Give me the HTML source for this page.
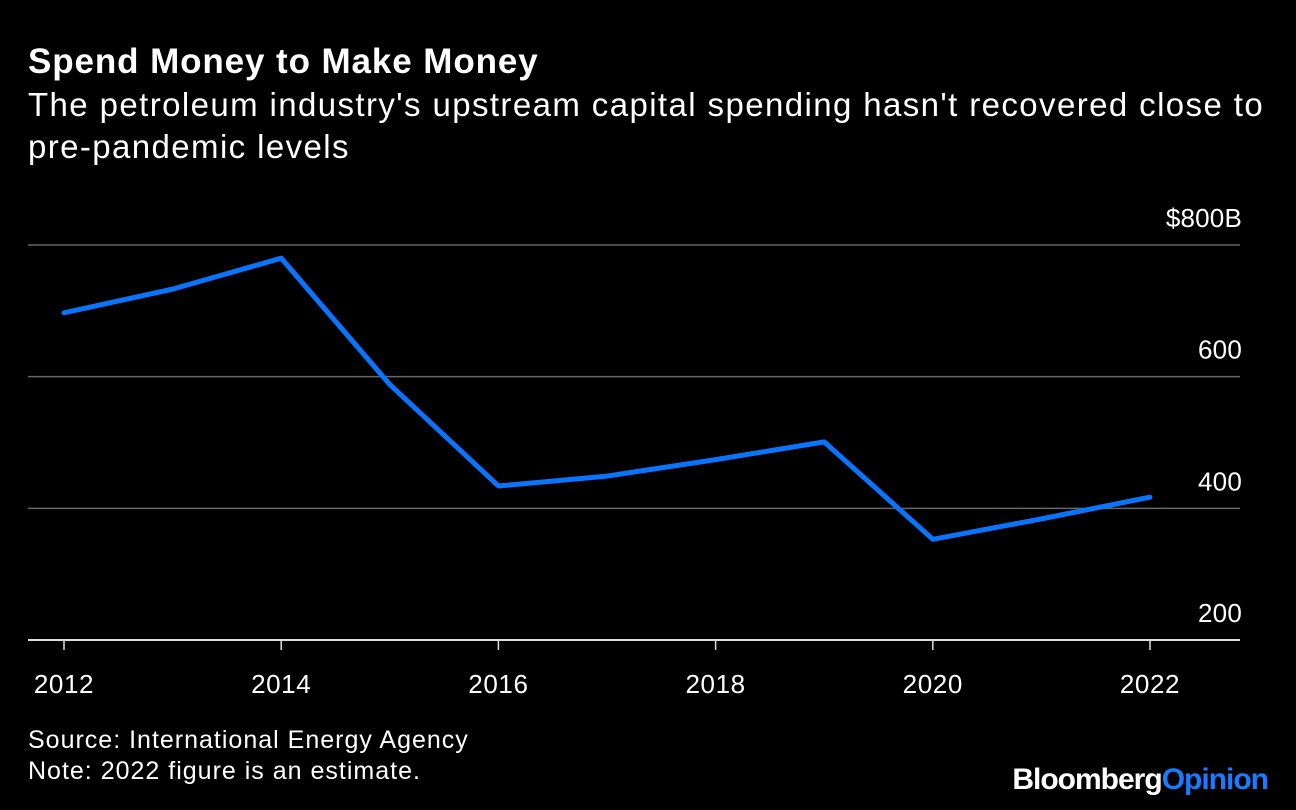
<!DOCTYPE html>
<html><head><meta charset="utf-8"><style>
body{margin:0;background:#000;width:1296px;height:810px;overflow:hidden;font-family:"Liberation Sans",Arial,sans-serif;color:#fff}
.t{position:absolute;left:28px;top:42px;font-size:35px;font-weight:bold;letter-spacing:0.9px}
.s{position:absolute;left:28px;top:84px;font-size:33px;line-height:42px;white-space:nowrap;letter-spacing:1.4px}
.f{position:absolute;left:28px;top:725px;font-size:25px;line-height:31px;letter-spacing:1px}
.logo{position:absolute;right:28px;top:763px;font-size:30px;font-weight:bold;letter-spacing:-1px}
</style></head><body>
<div class="t">Spend Money to Make Money</div>
<div class="s">The petroleum industry's upstream capital spending hasn't recovered close to<br>pre-pandemic levels</div>
<svg id="c" width="1296" height="810" style="position:absolute;left:0;top:0"></svg>
<div class="f">Source: International Energy Agency<br>Note: 2022 figure is an estimate.</div>
<div class="logo">Bloomberg<span style="color:#1a7bff">Opinion</span></div>
<script>
const years=[2012,2013,2014,2015,2016,2017,2018,2019,2020,2021,2022];
const values=[697,733,780,588,434,449,474,501,353,384,417];
const yTicks=[200,400,600,800];
const yTickLabels=["200","400","600","$800B"];
const xTicks=[2012,2014,2016,2018,2020,2022];
const svg=document.getElementById('c');const NS='http://www.w3.org/2000/svg';
const x=v=>64+(v-2012)*108.6;
const y=v=>640-(v-200)*0.6583;
function mk(t,a){const e=document.createElementNS(NS,t);for(const k in a)e.setAttribute(k,a[k]);svg.appendChild(e);return e;}
yTicks.forEach((v,i)=>{
 const l=mk('line',{x1:28,x2:1240,y1:y(v),y2:y(v),stroke:v===200?'#ddd':'#666','stroke-width':v===200?2:1.5});
 
 
 const t=mk('text',{x:1242,y:y(v)-18,'text-anchor':'end',fill:'#fff','font-size':26,'letter-spacing':0.2,'font-family':'Liberation Sans, sans-serif'});
 t.textContent=yTickLabels[i];
 
 
});
xTicks.forEach(v=>{
 const l=mk('line',{x1:x(v),x2:x(v),y1:640,y2:650,stroke:'#ddd','stroke-width':1.5});
 
 
 const t=mk('text',{x:x(v),y:693,'text-anchor':'middle',fill:'#fff','font-size':26,'letter-spacing':0.6,'font-family':'Liberation Sans, sans-serif'});
 t.textContent=v;
 
 
});
const p=mk('polyline',{points:years.map((yr,i)=>x(yr)+','+y(values[i])).join(' '),fill:'none',stroke:'#0a74ff','stroke-width':5,'stroke-linejoin':'round','stroke-linecap':'round'});


</script>
</body></html>
